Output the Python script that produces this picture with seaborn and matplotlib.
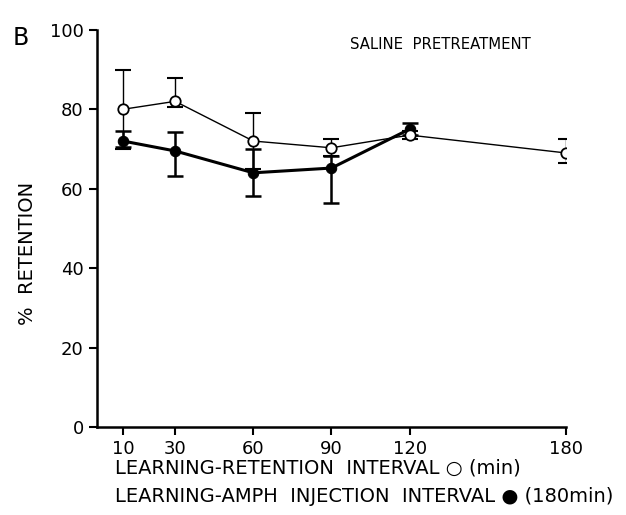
import matplotlib
matplotlib.use("Agg")
import matplotlib.pyplot as plt
import seaborn as sns
import pandas as pd

# open circles: learning-retention interval (min)
saline_x = [10, 30, 60, 90, 120, 180]
saline_y = [80, 82, 72, 70.3, 73.5, 69]
saline_lo = [10, 1.5, 7, 2, 1, 2.5]
saline_hi = [10, 6, 7, 2.3, 1, 3.5]

# filled circles: learning-amph injection interval
amph_x = [10, 30, 60, 90, 120]
amph_y = [72, 69.5, 64, 65.2, 75]
amph_lo = [1.5, 6.3, 5.8, 8.8, 1.5]
amph_hi = [2.5, 4.8, 6, 3, 1.5]

xticks = [10, 30, 60, 90, 120, 180]
yticks = [0, 20, 40, 60, 80, 100]

sns.set_style("ticks")
plt.rcParams['font.family'] = ['DejaVu Sans']
plt.rcParams['text.color'] = 'black'
plt.rcParams['axes.labelcolor'] = 'black'

fig = plt.figure(figsize=(6.26, 5.15), dpi=100)
ax = fig.add_axes([0.155, 0.171, 0.749, 0.771])

df_s = pd.DataFrame({'x': saline_x, 'y': saline_y})
df_a = pd.DataFrame({'x': amph_x, 'y': amph_y})

ax.errorbar(amph_x, amph_y, yerr=[amph_lo, amph_hi], fmt='none',
            ecolor='black', elinewidth=1.8, capsize=6, capthick=1.8, zorder=2)
ax.errorbar(saline_x, saline_y, yerr=[saline_lo, saline_hi], fmt='none',
            ecolor='black', elinewidth=1.0, capsize=6, capthick=1.5, zorder=2)

sns.lineplot(data=df_a, x='x', y='y', ax=ax, color='black', linewidth=2.2,
             marker='o', markersize=7.5, markerfacecolor='black',
             markeredgecolor='black', zorder=3)
sns.lineplot(data=df_s, x='x', y='y', ax=ax, color='black', linewidth=1.0,
             marker='o', markersize=7.5, markerfacecolor='white',
             markeredgecolor='black', markeredgewidth=1.3, zorder=4)

ax.set_xlim(0, 180)
ax.set_ylim(0, 100)
ax.set_xticks(xticks)
ax.set_yticks(yticks)
ax.tick_params(axis='both', direction='out', length=6, width=1.5,
               labelsize=13, colors='black')
for s in ['left', 'bottom']:
    ax.spines[s].set_linewidth(1.8)
    ax.spines[s].set_color('black')
sns.despine(ax=ax)
ax.set_xlabel('')
ax.set_ylabel('%  RETENTION', fontsize=14)
ax.yaxis.set_label_coords(-0.128, 0.436)

ax.text(0.539, 0.962, 'SALINE  PRETREATMENT', transform=ax.transAxes,
        fontsize=10.7, ha='left', va='center')
fig.text(0.02, 0.927, 'B', fontsize=17, ha='left', va='center')

fig.text(0.183, 0.091, 'LEARNING-RETENTION  INTERVAL \u25cb (min)',
         fontsize=14, ha='left', va='center')
fig.text(0.183, 0.035, 'LEARNING-AMPH  INJECTION  INTERVAL \u25cf (180min)',
         fontsize=14, ha='left', va='center')

fig.savefig('out.png', dpi=100)
